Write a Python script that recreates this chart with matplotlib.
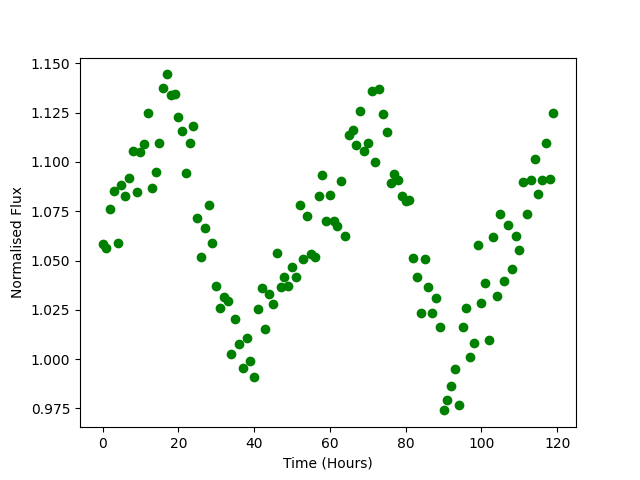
import matplotlib
matplotlib.use("Agg")
import matplotlib.pyplot as plt
import numpy as np

time_hours = list(range(120))
flux = [
    1.0583, 1.0565, 1.0761, 1.0852, 1.0587, 1.0882, 1.0826, 1.0921, 1.1058, 1.0850,
    1.1048, 1.1089, 1.1246, 1.0866, 1.0948, 1.1094, 1.1373, 1.1444, 1.1342, 1.1347,
    1.1226, 1.1155, 1.0943, 1.1095, 1.1182, 1.0718, 1.0517, 1.0663, 1.0784, 1.0587,
    1.0370, 1.0257, 1.0313, 1.0296, 1.0025, 1.0206, 1.0075, 0.9953, 1.0105, 0.9990,
    0.9909, 1.0252, 1.0362, 1.0152, 1.0330, 1.0282, 1.0536, 1.0364, 1.0419, 1.0373,
    1.0467, 1.0414, 1.0784, 1.0507, 1.0724, 1.0532, 1.0516, 1.0827, 1.0933, 1.0700,
    1.0832, 1.0701, 1.0674, 1.0903, 1.0624, 1.1139, 1.1160, 1.1085, 1.1258, 1.1055,
    1.1095, 1.1359, 1.0999, 1.1369, 1.1242, 1.1151, 1.0891, 1.0940, 1.0906, 1.0827,
    1.0803, 1.0806, 1.0512, 1.0419, 1.0232, 1.0507, 1.0364, 1.0232, 1.0308, 1.0161,
    0.9740, 0.9792, 0.9863, 0.9949, 0.9767, 1.0161, 1.0257, 1.0010, 1.0081, 1.0577,
    1.0284, 1.0384, 1.0096, 1.0617, 1.0321, 1.0734, 1.0394, 1.0678, 1.0455, 1.0622,
    1.0553, 1.0896, 1.0734, 1.0906, 1.1013, 1.0835, 1.0906, 1.1094, 1.0916, 1.1246,
]

fig, ax = plt.subplots(figsize=(6.4, 4.8), dpi=100)
ax.plot(time_hours, flux, 'o', color='green')
ax.set_xlabel("Time (Hours)")
ax.set_ylabel("Normalised Flux")
fig.savefig("out.png")
